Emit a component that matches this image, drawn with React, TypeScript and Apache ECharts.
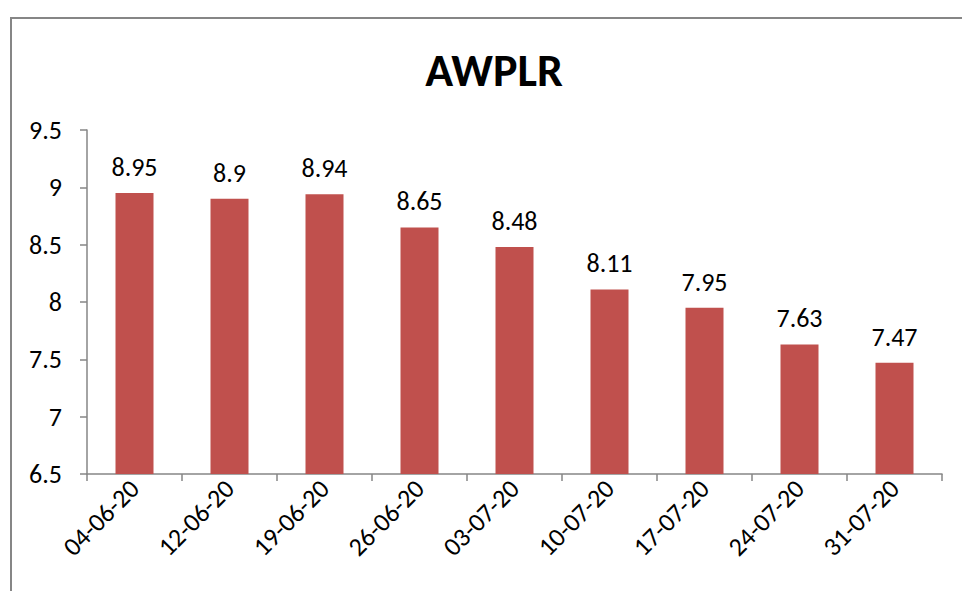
import React, { useEffect, useRef } from "react";
import * as echarts from "echarts";

const categories = ["04-06-20", "12-06-20", "19-06-20", "26-06-20", "03-07-20", "10-07-20", "17-07-20", "24-07-20", "31-07-20"];
const values = [8.95, 8.9, 8.94, 8.65, 8.48, 8.11, 7.95, 7.63, 7.47];
const titleText = "AWPLR";

export default function App() {
  const ref = useRef<HTMLDivElement>(null);
  useEffect(() => {
    const chart = echarts.init(ref.current!, undefined, { renderer: "svg" });
    const font = "Carlito, 'Open Sans', 'Liberation Sans', sans-serif";
    chart.setOption({
      animation: false,
      backgroundColor: "#ffffff",
      title: {
        text: titleText,
        left: 489,
        top: 42,
        textAlign: "center",
        textStyle: { fontSize: 46, fontWeight: "bold", color: "#000", fontFamily: font },
      },
      graphic: [
        {
          type: "rect",
          shape: { x: 11, y: 18, width: 1000, height: 1000 },
          style: { fill: "none", stroke: "#868686", lineWidth: 2 },
          silent: true,
        },
      ],
      grid: { left: 87, right: 20, top: 130, bottom: 117, containLabel: false },
      xAxis: {
        type: "category",
        data: categories,
        boundaryGap: true,
        axisLine: { lineStyle: { color: "#868686", width: 1.5 } },
        axisTick: { show: true, alignWithLabel: false, length: 7, lineStyle: { color: "#868686", width: 1.5 } },
        axisLabel: { rotate: 45, fontSize: 26, color: "#000", fontFamily: font, margin: 10, interval: 0 },
      },
      yAxis: {
        type: "value",
        min: 6.5,
        max: 9.5,
        interval: 0.5,
        axisLine: { show: true, lineStyle: { color: "#868686", width: 1.5 } },
        axisTick: { show: true, length: 7, lineStyle: { color: "#868686", width: 1.5 } },
        axisLabel: { fontSize: 26, color: "#000", fontFamily: font, margin: 25 },
        splitLine: { show: false },
      },
      series: [
        {
          type: "bar",
          data: values,
          barWidth: "40%",
          itemStyle: { color: "#C0504D" },
          label: {
            show: true,
            position: "top",
            distance: 13,
            fontSize: 26,
            color: "#000",
            fontFamily: font,
          },
        },
      ],
    });
    return () => chart.dispose();
  }, []);
  return <div ref={ref} style={{ position: "fixed", left: 0, top: 0, width: 962, height: 591 }} />;
}
